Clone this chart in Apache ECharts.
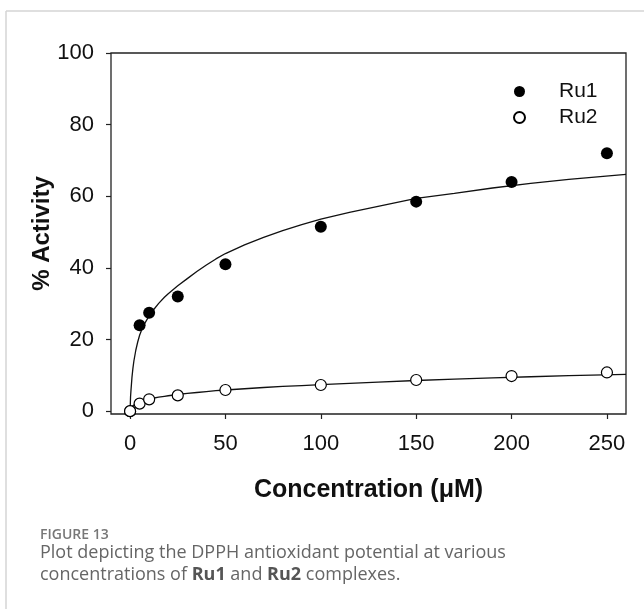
<!DOCTYPE html>
<html>
<head>
<meta charset="utf-8">
<script src="https://cdn.jsdelivr.net/npm/echarts@6/dist/echarts.min.js"></script>
<style>
html,body{margin:0;padding:0;background:#fff;}
#chart{width:644px;height:609px;}
</style>
</head>
<body>
<div id="chart"></div>
<script>
// Measured data points
var concentration = [0, 5, 10, 25, 50, 100, 150, 200, 250];
var ru1 = [0, 24, 27.5, 32, 41, 51.5, 58.5, 64, 72];
var ru2 = [0, 2.1, 3.3, 4.4, 5.9, 7.3, 8.7, 9.8, 10.8];

// Fitted curves
var fitX   = [0, 0.25, 0.5, 1, 1.5, 2, 3, 4, 5, 6, 8, 10, 12, 15, 18, 20, 25, 30, 35, 40, 45, 50, 60, 70, 80, 90, 100, 115, 130, 150, 170, 190, 210, 230, 260];
var ru1Fit = [0, 4, 6, 9.5, 12, 14, 17, 19.3, 21.2, 22.6, 24.8, 26.6, 28.1, 30.1, 31.8, 32.8, 35, 37, 39, 40.8, 42.5, 44, 46.4, 48.5, 50.4, 52.1, 53.6, 55.5, 57.2, 59.4, 60.8, 62.3, 63.6, 64.7, 66.1];
var ru2Fit = [0, 0.5, 0.8, 1.2, 1.5, 1.75, 2.15, 2.45, 2.7, 2.85, 3.15, 3.4, 3.6, 3.9, 4.15, 4.3, 4.65, 4.95, 5.2, 5.45, 5.7, 5.9, 6.25, 6.6, 6.9, 7.15, 7.4, 7.75, 8.1, 8.55, 8.95, 9.3, 9.6, 9.9, 10.25];

// Tick labels
var xTicks = [0, 50, 100, 150, 200, 250];
var yTicks = [0, 20, 40, 60, 80, 100];

function pairs(xs, ys) { return xs.map(function (x, i) { return [x, ys[i]]; }); }

var chart = echarts.init(document.getElementById('chart'), null, {renderer: 'canvas'});
var axisFont = 'Liberation Sans, Arial, sans-serif';
var capFont = '"Open Sans", "Noto Sans", sans-serif';

chart.setOption({
  backgroundColor: '#fff',
  animation: false,
  grid: {
    left: 111, right: 18, top: 53, bottom: 195,
    show: true, borderColor: '#222', borderWidth: 1.3, backgroundColor: 'transparent'
  },
  legend: {
    orient: 'vertical',
    left: 508, top: 76,
    itemWidth: 11, itemHeight: 11, itemGap: 5,
    data: ['Ru1', 'Ru2'],
    textStyle: {fontFamily: axisFont, fontSize: 21, color: '#111', lineHeight: 21, padding: [0, 0, 0, 29]}
  },
  xAxis: {
    type: 'value', min: -10, max: 260,
    name: 'Concentration (\u03bcM)', nameLocation: 'middle', nameGap: 64, nameMoveOverlap: false,
    nameTextStyle: {fontFamily: axisFont, fontSize: 25, fontWeight: 'bold', color: '#111'},
    axisLine: {show: false, onZero: false},
    axisTick: {show: true, inside: false, length: 5, lineStyle: {color: '#222', width: 1.2}, customValues: xTicks},
    axisLabel: {show: true, margin: 19, fontFamily: axisFont, fontSize: 22, color: '#111', customValues: xTicks},
    splitLine: {show: false}
  },
  yAxis: {
    type: 'value', min: -0.8, max: 100,
    name: '% Activity', nameLocation: 'middle', nameGap: 57, nameRotate: 90, nameMoveOverlap: false,
    nameTextStyle: {fontFamily: axisFont, fontSize: 24, fontWeight: 'bold', color: '#111'},
    axisLine: {show: false, onZero: false},
    axisTick: {show: true, inside: false, length: 5, lineStyle: {color: '#222', width: 1.2}, customValues: yTicks},
    axisLabel: {show: true, margin: 17, fontFamily: axisFont, fontSize: 22, color: '#111', customValues: yTicks},
    splitLine: {show: false}
  },
  series: [
    {
      name: 'Ru1 fit', type: 'line', data: pairs(fitX, ru1Fit), showSymbol: false, smooth: false,
      lineStyle: {color: '#111', width: 1.3}, silent: true, z: 2
    },
    {
      name: 'Ru2 fit', type: 'line', data: pairs(fitX, ru2Fit), showSymbol: false, smooth: false,
      lineStyle: {color: '#111', width: 1.3}, silent: true, z: 2
    },
    {
      name: 'Ru1', type: 'scatter', data: pairs(concentration, ru1), symbol: 'circle', symbolSize: 12,
      itemStyle: {color: '#000', opacity: 1}, z: 3
    },
    {
      name: 'Ru2', type: 'scatter', data: pairs(concentration, ru2), symbol: 'circle', symbolSize: 11,
      itemStyle: {color: '#fff', borderColor: '#000', borderWidth: 1.2, opacity: 1}, z: 3
    }
  ],
  graphic: [
    {type: 'line', shape: {x1: 6, y1: 11, x2: 644, y2: 11}, style: {stroke: '#d4d4d4', lineWidth: 1.5}},
    {type: 'line', shape: {x1: 6, y1: 11, x2: 6, y2: 609}, style: {stroke: '#d4d4d4', lineWidth: 1.5}},
    {type: 'text', left: 40, top: 528, style: {text: 'FIGURE 13', font: '600 14px ' + capFont, fill: '#777'}},
    {type: 'text', left: 40, top: 544, style: {text: 'Plot depicting the DPPH antioxidant potential at various', font: '18px ' + capFont, fill: '#666'}},
    {type: 'text', left: 40, top: 566, style: {
      text: 'concentrations of {b|Ru1} and {b|Ru2} complexes.',
      font: '18px ' + capFont, fill: '#666',
      rich: {b: {fontFamily: capFont, fontSize: 18, fontWeight: 'bold', fill: '#555'}}
    }}
  ]
});
</script>
</body>
</html>
